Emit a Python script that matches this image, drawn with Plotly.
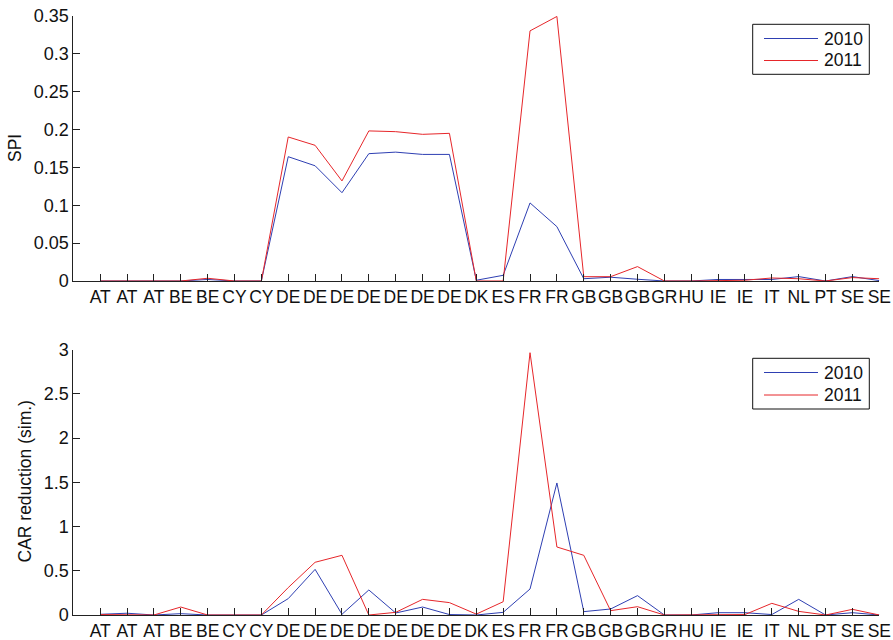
import plotly.graph_objects as go

# Country code for each bank, in plotting order
banks = ["AT", "AT", "AT", "BE", "BE", "CY", "CY",
         "DE", "DE", "DE", "DE", "DE", "DE", "DE",
         "DK", "ES", "FR", "FR", "GB", "GB", "GB",
         "GR", "HU", "IE", "IE", "IT", "NL", "PT", "SE", "SE"]
pos = list(range(1, len(banks) + 1))

# Systemic probability index
spi_2010 = [0, 0, 0, 0, 0.002, 0, 0,
            0.164, 0.152, 0.1165, 0.168, 0.170, 0.167, 0.167,
            0.001, 0.0075, 0.103, 0.0717, 0.003, 0.005, 0.0023,
            0, 0, 0.002, 0.002, 0.002, 0.0058, 0, 0.0058, 0.0005]
spi_2011 = [0, 0, 0, 0, 0.0036, 0, 0,
            0.190, 0.179, 0.132, 0.198, 0.197, 0.1935, 0.1948,
            0, 0, 0.330, 0.349, 0.0057, 0.0057, 0.019,
            0, 0, 0.0005, 0.001, 0.004, 0.003, 0, 0.0045, 0.003]

# Simulated CAR reduction
car_2010 = [0.008, 0.02, 0, 0.015, 0, 0, 0,
            0.185, 0.516, 0.008, 0.283, 0.023, 0.09, 0.005,
            0, 0.03, 0.294, 1.493, 0.038, 0.068, 0.219,
            0, 0, 0.026, 0.026, 0.005, 0.177, 0, 0.026, 0]
car_2011 = [0.005, 0.005, 0, 0.09, 0, 0, 0,
            0.31, 0.596, 0.675, 0, 0.03, 0.177, 0.14,
            0.01, 0.15, 2.966, 0.769, 0.675, 0.049, 0.094,
            0, 0, 0.005, 0.005, 0.132, 0.041, 0, 0.064, 0]

spi_ticks = [0, 0.05, 0.1, 0.15, 0.2, 0.25, 0.3, 0.35]
car_ticks = [0, 0.5, 1, 1.5, 2, 2.5, 3]
years = ["2010", "2011"]

BLUE = "#2e3fb2"
RED = "#e6262a"
FONT = "Liberation Sans, Arial, sans-serif"
W, H = 893, 640


def px(x):
    return x / W


def py(y):
    return 1 - y / H


fig = go.Figure()
for ys, name, color, xa, ya in [
    (spi_2010, years[0], BLUE, "x", "y"),
    (spi_2011, years[1], RED, "x", "y"),
    (car_2010, years[0], BLUE, "x2", "y2"),
    (car_2011, years[1], RED, "x2", "y2"),
]:
    fig.add_trace(go.Scatter(x=pos, y=ys, name=name, mode="lines",
                             line=dict(color=color, width=1),
                             xaxis=xa, yaxis=ya, showlegend=False))

xcommon = dict(range=[0, 30], tickvals=pos, ticktext=banks, ticks="inside",
               ticklen=7, tickcolor="#222", showline=True, linecolor="#222",
               linewidth=1, showgrid=False, zeroline=False, tickangle=0,
               automargin=False,
               tickfont=dict(family=FONT, size=17.5, color="#111"),
               domain=[px(73.3), px(879.3)], fixedrange=True)
ycommon = dict(ticks="inside", ticklen=7, tickcolor="#222", showline=True,
               linecolor="#222", linewidth=1, showgrid=False, zeroline=False,
               automargin=False,
               tickfont=dict(family=FONT, size=18, color="#111"),
               fixedrange=True)

# Boxed key in the upper-right corner of each panel
shapes, annotations = [], []
for top, bottom, rows in [(24.3, 74.3, (38.5, 60.5)),
                          (358.3, 409, (372.5, 395))]:
    shapes.append(dict(type="rect", xref="paper", yref="paper",
                       x0=px(752.7), x1=px(869.3), y0=py(bottom), y1=py(top),
                       line=dict(color="#111", width=1), fillcolor="white",
                       layer="above"))
    for yr, color, ry in zip(years, (BLUE, RED), rows):
        shapes.append(dict(type="line", xref="paper", yref="paper",
                           x0=px(764), x1=px(818), y0=py(ry), y1=py(ry),
                           line=dict(color=color, width=1), layer="above"))
        annotations.append(dict(text=yr, x=px(822), y=py(ry), xref="paper",
                                yref="paper", xanchor="left",
                                yanchor="middle", showarrow=False,
                                font=dict(family=FONT, size=17.5,
                                          color="#111")))

annotations += [
    dict(text="SPI", x=px(15), y=py(148), xref="paper", yref="paper",
         xanchor="center", yanchor="middle",
         textangle=-90, showarrow=False, font=dict(family=FONT, size=17.5)),
    dict(text="CAR reduction (sim.)", x=px(24.5), y=py(482),
         xref="paper", yref="paper", xanchor="center", yanchor="middle",
         textangle=-90, showarrow=False, font=dict(family=FONT, size=17.5)),
]

fig.update_layout(
    width=W, height=H,
    margin=dict(l=0, r=0, t=0, b=0),
    paper_bgcolor="white", plot_bgcolor="white",
    font=dict(family=FONT, size=17, color="#111"),
    showlegend=False,
    xaxis=dict(xcommon, anchor="y"),
    xaxis2=dict(xcommon, anchor="y2"),
    yaxis=dict(ycommon, domain=[py(281), py(15.7)], range=[0, 0.35],
               tickvals=spi_ticks,
               ticktext=["0", "0.05", "0.1", "0.15", "0.2", "0.25", "0.3", "0.35"],
               anchor="x"),
    yaxis2=dict(ycommon, domain=[py(615), py(349.7)], range=[0, 3],
                tickvals=car_ticks,
                ticktext=["0", "0.5", "1", "1.5", "2", "2.5", "3"], anchor="x2"),
    shapes=shapes,
    annotations=annotations,
)

fig.write_html("out.html")
